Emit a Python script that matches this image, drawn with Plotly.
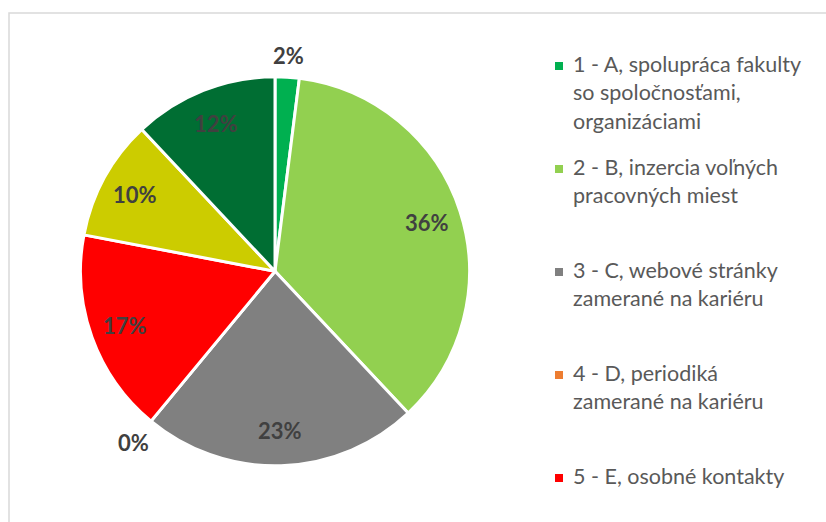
import math
import plotly.graph_objects as go

W, H = 826, 522

# Survey answers (share of respondents, %), clockwise from 12 o'clock
categories = [
    "1 - A, spolupráca fakulty<br>so spoločnosťami,<br>organizáciami",
    "2 - B, inzercia voľných<br>pracovných miest",
    "3 - C, webové stránky<br>zamerané na kariéru",
    "4 - D, periodiká<br>zamerané na kariéru",
    "5 - E, osobné kontakty",
    "6 - F",
    "7 - G",
]
values = [2, 36, 23, 0, 17, 10, 12]
colors = ["#00B050", "#92D050", "#808080", "#ED7D31", "#FF0000", "#CCCC00", "#006E33"]
legend_shown = 5  # the frame only has room for the first five entries

# Pie geometry in pixels
CX, CY, R = 275.0, 271.3, 194.5

def px_x(x):
    return x / W

def px_y(y):
    return 1 - y / H

fig = go.Figure()
fig.add_trace(go.Pie(
    labels=categories,
    values=values,
    sort=False,
    direction="clockwise",
    rotation=0,
    marker=dict(colors=colors, line=dict(color="white", width=3)),
    textinfo="none",
    hoverinfo="label+percent",
    showlegend=False,
    domain=dict(x=[px_x(CX - R), px_x(CX + R)], y=[px_y(CY + R), px_y(CY - R)]),
))

annotations = []
total = sum(values)
label_font = dict(family="Lato, Carlito, sans-serif", size=22, color="#404040")
cum = 0.0
for v in values:
    mid = (cum + v / 2) / total * 2 * math.pi
    cum += v
    pct = round(100 * v / total)
    txt = f"<b>{pct}%</b>"
    sx, sy = math.sin(mid), -math.cos(mid)
    if pct < 5:
        # small slices get their label outside the rim
        tw, th = 11 * (len(str(pct)) + 1.5), 16
        rr = R + 13 + abs(sx) * tw / 2 + abs(sy) * th / 2
    else:
        rr = 0.82 * R
    annotations.append(dict(
        x=px_x(CX + rr * sx), y=px_y(CY + rr * sy), xref="paper", yref="paper",
        text=txt, showarrow=False, xanchor="center", yanchor="middle", font=label_font,
    ))

# Legend drawn as text lines and colour squares
shapes = []
LEG_TEXT_X, LEG_MARK_X = 572, 555
FIRST_BASE, ITEM_STEP, LINE_STEP = 72.7, 103.0, 28.5
legend_font = dict(family="Lato, Carlito, sans-serif", size=21.5, color="#595959")
for i in range(legend_shown):
    base = FIRST_BASE + i * ITEM_STEP
    shapes.append(dict(
        type="rect", xref="paper", yref="paper", line=dict(width=0), fillcolor=colors[i],
        x0=px_x(LEG_MARK_X), x1=px_x(LEG_MARK_X + 8),
        y0=px_y(base - 2.7), y1=px_y(base - 10.7),
    ))
    for j, line in enumerate(categories[i].split("<br>")):
        b = base + j * LINE_STEP
        annotations.append(dict(
            x=px_x(LEG_TEXT_X), y=px_y(b - 9), xref="paper", yref="paper",
            text=line, showarrow=False, xanchor="left", yanchor="middle",
            font=legend_font, xshift=-1,
        ))

# Chart-area frame (runs past the right and bottom edges)
shapes.append(dict(
    type="rect", xref="paper", yref="paper",
    x0=px_x(9), x1=1.02, y0=-0.03, y1=px_y(13),
    line=dict(color="#D9D9D9", width=1.5), fillcolor="rgba(0,0,0,0)",
))

fig.update_layout(
    width=W, height=H,
    margin=dict(l=0, r=0, t=0, b=0),
    paper_bgcolor="white",
    plot_bgcolor="white",
    annotations=annotations,
    shapes=shapes,
)

fig.write_html("out.html")
